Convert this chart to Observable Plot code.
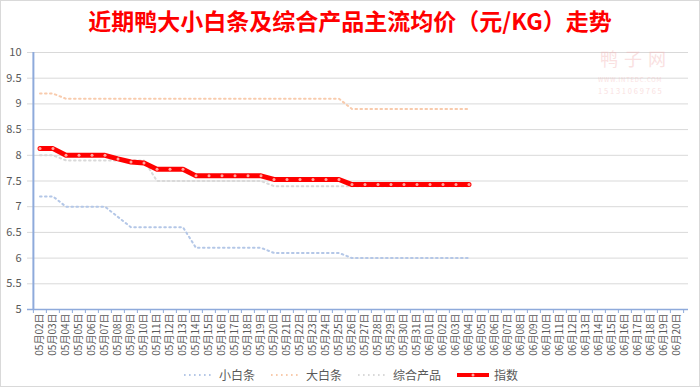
<!DOCTYPE html>
<html><head><meta charset="utf-8">
<script src="https://cdn.jsdelivr.net/npm/d3@7"></script>
<script src="https://cdn.jsdelivr.net/npm/@observablehq/plot@0.6"></script>
<style>
html,body{margin:0;padding:0;background:#fff;}
body{width:700px;height:387px;overflow:hidden;position:relative;font-family:"Noto Sans CJK SC","Noto Sans",sans-serif;}
#title{height:42px;line-height:40px;text-align:center;color:#ff0000;font-size:23px;font-weight:bold;white-space:nowrap;}
#chart{height:320px;}
#chart svg{display:block;}
#legend{height:25px;display:flex;justify-content:center;align-items:center;font-size:12px;color:#595959;padding-left:2px;}
#legend .item{display:flex;align-items:center;margin:0 8px;}
#legend svg{margin-right:5px;}
#border{position:absolute;left:0;top:0;width:698px;height:385px;border:1px solid #d9d9d9;pointer-events:none;}
.wm{position:absolute;color:#f3b3b3;opacity:0.4;pointer-events:none;line-height:1;white-space:nowrap;}
#wma{left:600px;top:49px;font-size:18px;letter-spacing:6px;}
#wmb{left:598px;top:77px;font-size:6px;letter-spacing:0.8px;}
#wmc{left:598px;top:87px;font-size:7.5px;letter-spacing:1.8px;}
</style></head>
<body>
<div id="title">近期鸭大小白条及综合产品主流均价（元/KG）走势</div>
<div id="chart"></div>
<div id="legend"></div>
<div class="wm" id="wma">鸭子网</div>
<div class="wm" id="wmb">WWW.INTEDC.COM</div>
<div class="wm" id="wmc">15131069765</div>
<div id="border"></div>
<script>
const dates = [
  "05月02日","05月03日","05月04日","05月05日","05月06日","05月07日","05月08日","05月09日","05月10日","05月11日",
  "05月12日","05月13日","05月14日","05月15日","05月16日","05月17日","05月18日","05月19日","05月20日","05月21日",
  "05月22日","05月23日","05月24日","05月25日","05月26日","05月27日","05月28日","05月29日","05月30日","05月31日",
  "06月01日","06月02日","06月03日","06月04日","06月05日","06月06日","06月07日","06月08日","06月09日","06月10日",
  "06月11日","06月12日","06月13日","06月14日","06月15日","06月16日","06月17日","06月18日","06月19日","06月20日"
];
const seriesNames = ["小白条","大白条","综合产品","指数"];
const small = [7.2,7.2,7.0,7.0,7.0,7.0,6.8,6.6,6.6,6.6,6.6,6.6,6.2,6.2,6.2,6.2,6.2,6.2,6.1,6.1,6.1,6.1,6.1,6.1,6.0,6.0,6.0,6.0,6.0,6.0,6.0,6.0,6.0,6.0];
const big = [9.2,9.2,9.1,9.1,9.1,9.1,9.1,9.1,9.1,9.1,9.1,9.1,9.1,9.1,9.1,9.1,9.1,9.1,9.1,9.1,9.1,9.1,9.1,9.1,8.9,8.9,8.9,8.9,8.9,8.9,8.9,8.9,8.9,8.9];
const combined = [8.0,8.0,7.9,7.9,7.9,7.9,7.9,7.9,7.9,7.5,7.5,7.5,7.5,7.5,7.5,7.5,7.5,7.5,7.4,7.4,7.4,7.4,7.4,7.4,7.4,7.4,7.4,7.4,7.4,7.4,7.4,7.4,7.4,7.4];
const index = [8.13,8.13,8.0,8.0,8.0,8.0,7.93,7.87,7.85,7.73,7.73,7.73,7.6,7.6,7.6,7.6,7.6,7.6,7.53,7.53,7.53,7.53,7.53,7.53,7.43,7.43,7.43,7.43,7.43,7.43,7.43,7.43,7.43,7.43];
const yTicks = [5,5.5,6,6.5,7,7.5,8,8.5,9,9.5,10];

const colors = {"小白条":"#b4c7e7","大白条":"#f8cbad","综合产品":"#d9d9d9","指数":"#ff0000"};
const toRows = (vals) => vals.map((v,i)=>({date:dates[i], value:v}));

const W = 700, H = 320, ML = 27, MR = 12, MT = 10, MB = 53;
const bw = (W - ML - MR) / dates.length;
const axisColor = "#8eaadb";
const dash = "1.6,3.4";
const dotted = (vals, name) => Plot.line(toRows(vals), {x:"date", y:"value", stroke: colors[name], strokeWidth: 2, strokeDasharray: dash});

const chart = Plot.plot({
  width: W, height: H,
  marginLeft: ML, marginRight: MR, marginTop: MT, marginBottom: MB,
  style: {fontFamily: '"Noto Sans CJK SC","Noto Sans",sans-serif', background: "transparent"},
  x: {type: "band", domain: dates, padding: 0, label: null},
  y: {domain: [5, 10], label: null},
  marks: [
    Plot.gridY(yTicks, {stroke: "#d9d9d9", strokeOpacity: 1, strokeWidth: 1}),
    Plot.axisY(yTicks, {tickSize: 0, tickPadding: 6, fontSize: 11, fill: "#595959", tickFormat: d => String(d), label: null}),
    Plot.axisX({tickSize: 0, tickPadding: 4, tickRotate: -90, fontSize: 10, fill: "#595959", label: null}),
    Plot.axisX(dates, {tickSize: 4, tickFormat: () => "", dx: -bw/2, stroke: axisColor, label: null}),
    Plot.axisX([dates[dates.length-1]], {tickSize: 4, tickFormat: () => "", dx: bw/2, stroke: axisColor, label: null}),
    Plot.ruleY([5], {stroke: axisColor, strokeWidth: 1.5}),
    Plot.ruleX([dates[0]], {dx: -bw/2, y1: 5, y2: 10, stroke: axisColor, strokeWidth: 2}),
    dotted(small, "小白条"),
    dotted(big, "大白条"),
    dotted(combined, "综合产品"),
    Plot.line(toRows(index), {x:"date", y:"value", stroke: colors["指数"], strokeWidth: 5}),
    Plot.dot(toRows(index), {x:"date", y:"value", r: 1.5, fill: "#ffa8a0", stroke: "none"})
  ]
});
document.getElementById("chart").appendChild(chart);

const legend = document.getElementById("legend");
seriesNames.forEach(name => {
  const item = document.createElement("div");
  item.className = "item";
  let sample;
  if (name === "指数") {
    sample = `<svg width="32" height="8"><line x1="0" y1="4" x2="32" y2="4" stroke="${colors[name]}" stroke-width="4"/><circle cx="16" cy="4" r="1.5" fill="#ffa8a0"/></svg>`;
  } else {
    sample = `<svg width="30" height="8"><line x1="0" y1="4" x2="30" y2="4" stroke="${colors[name]}" stroke-width="2" stroke-dasharray="${dash}"/></svg>`;
  }
  item.innerHTML = sample + `<span>${name}</span>`;
  legend.appendChild(item);
});
</script>
</body></html>
